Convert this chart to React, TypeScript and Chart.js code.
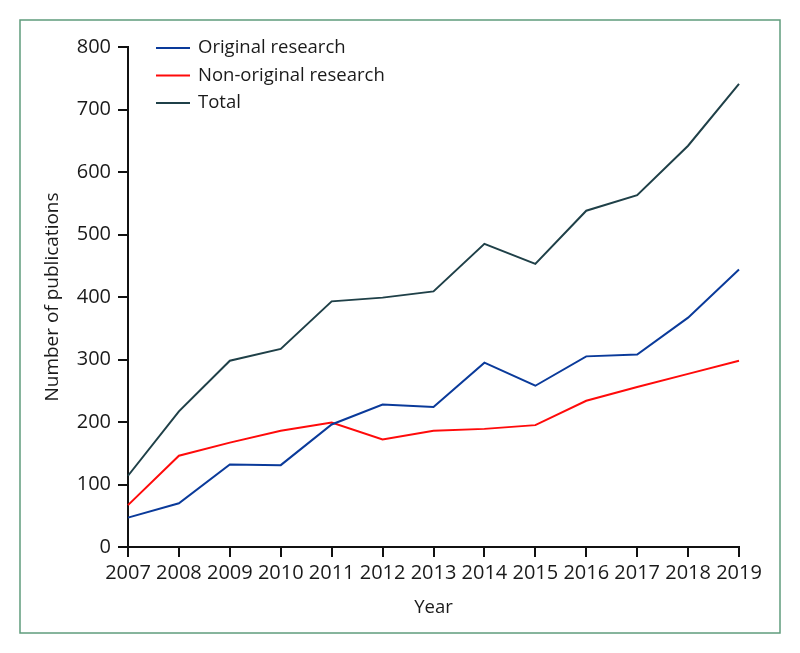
import React, { useEffect, useRef } from "react";
import { Chart, registerables } from "chart.js";

Chart.register(...registerables);

const years = ["2007","2008","2009","2010","2011","2012","2013","2014","2015","2016","2017","2018","2019"];
const originalResearch = [47, 70, 132, 131, 196, 228, 224, 295, 258, 305, 308, 367, 444];
const nonOriginalResearch = [67, 146, 167, 186, 199, 172, 186, 189, 195, 234, 256, 277, 298];
const totalPublications = [114, 217, 298, 317, 393, 399, 409, 485, 453, 538, 563, 642, 741];
const yTicks = [0, 100, 200, 300, 400, 500, 600, 700, 800];

const FONT = "'Open Sans', 'Noto Sans', sans-serif";

const framePlugin = {
  id: "frame",
  beforeDraw(chart: any) {
    const ctx = chart.ctx;
    ctx.save();
    ctx.fillStyle = "#ffffff";
    ctx.fillRect(0, 0, chart.width, chart.height);
    ctx.strokeStyle = "#5f9c7c";
    ctx.lineWidth = 1.5;
    ctx.strokeRect(20, 20, 760, 613);
    ctx.restore();
  },
};

const legendPlugin = {
  id: "insideLegend",
  afterDatasetsDraw(chart: any) {
    const ctx = chart.ctx;
    const area = chart.chartArea;
    ctx.save();
    ctx.font = `18.5px ${FONT}`;
    ctx.textBaseline = "middle";
    ctx.textAlign = "left";
    chart.data.datasets.forEach((ds: any, i: number) => {
      const y = area.top + 1 + i * 27.5;
      const x0 = area.left + 28;
      ctx.strokeStyle = ds.borderColor;
      ctx.lineWidth = 2;
      ctx.beginPath();
      ctx.moveTo(x0, y);
      ctx.lineTo(x0 + 34, y);
      ctx.stroke();
      ctx.fillStyle = "#1a1a1a";
      ctx.fillText(ds.label, x0 + 42, y);
    });
    ctx.restore();
  },
};

export default function App() {
  const canvasRef = useRef<HTMLCanvasElement | null>(null);

  useEffect(() => {
    document.body.style.margin = "0";
    const canvas = canvasRef.current;
    if (!canvas) return;
    const chart = new Chart(canvas, {
      type: "line",
      data: {
        labels: years,
        datasets: [
          { label: "Original research", data: originalResearch, borderColor: "#0a3a9a", borderWidth: 2, pointRadius: 0, tension: 0, fill: false },
          { label: "Non-original research", data: nonOriginalResearch, borderColor: "#ff0a0a", borderWidth: 2, pointRadius: 0, tension: 0, fill: false },
          { label: "Total", data: totalPublications, borderColor: "#1f4048", borderWidth: 2, pointRadius: 0, tension: 0, fill: false },
        ],
      },
      options: {
        animation: false,
        responsive: false,
        maintainAspectRatio: false,
        layout: { padding: { left: 0, right: 61, top: 47, bottom: 0 } },
        plugins: {
          legend: { display: false },
          tooltip: { enabled: false },
        },
        scales: {
          x: {
            type: "category",
            offset: false,
            grid: { display: true, drawOnChartArea: false, drawTicks: true, tickLength: 10, color: "#111", lineWidth: 2 },
            border: { display: true, color: "#111", width: 2 },
            ticks: { color: "#1a1a1a", font: { family: FONT, size: 20 }, padding: 4, maxRotation: 0, autoSkip: false },
            title: { display: true, text: "Year", color: "#1a1a1a", font: { family: FONT, size: 18.5 }, padding: { top: 0, bottom: 34 } },
            afterFit: (scale: any) => { scale.height = 106; },
          },
          y: {
            min: 0,
            max: 800,
            afterBuildTicks: (scale: any) => { scale.ticks = yTicks.map((v) => ({ value: v })); },
            grid: { display: true, drawOnChartArea: false, drawTicks: true, tickLength: 10, color: "#111", lineWidth: 2 },
            border: { display: true, color: "#111", width: 2 },
            ticks: { color: "#1a1a1a", font: { family: FONT, size: 20 }, padding: 7 },
            title: { display: true, text: "Number of publications", color: "#1a1a1a", font: { family: FONT, size: 19 }, padding: { top: 41, bottom: 0 } },
            afterFit: (scale: any) => { scale.width = 128; },
          },
        },
      },
      plugins: [framePlugin, legendPlugin],
    });
    return () => chart.destroy();
  }, []);

  return (
    <div style={{ width: 800, height: 653 }}>
      <canvas ref={canvasRef} width={800} height={653} style={{ display: "block" }} />
    </div>
  );
}
